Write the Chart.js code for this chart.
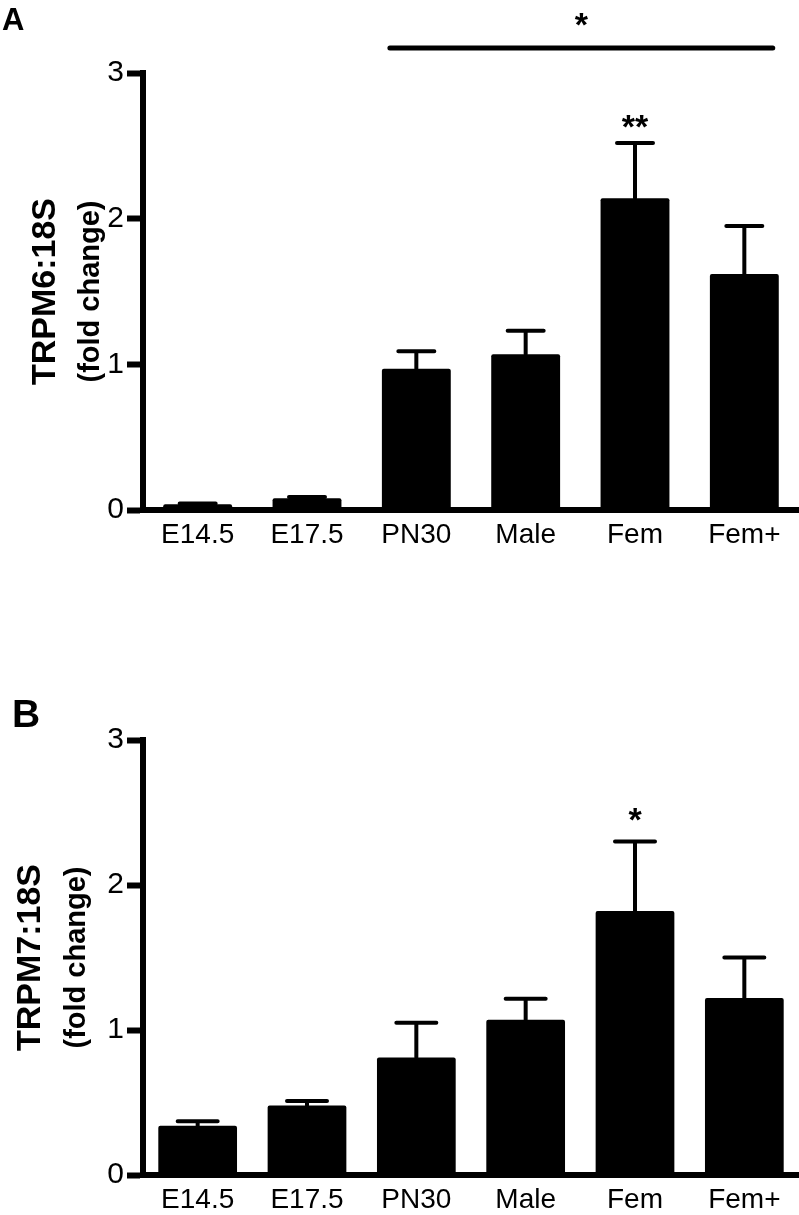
<!DOCTYPE html>
<html>
<head>
<meta charset="utf-8">
<script src="https://cdn.jsdelivr.net/npm/chart.js@4.4.1/dist/chart.umd.min.js"></script>
<style>
  html, body { margin: 0; padding: 0; background: #fff; }
  #cajaA { position: absolute; left: 0; top: 0; width: 799px; height: 590px; }
  #cajaB { position: absolute; left: 0; top: 590px; width: 799px; height: 625px; }
</style>
</head>
<body>
<div id="cajaA"><canvas id="plot1"></canvas></div>
<div id="cajaB"><canvas id="plot2"></canvas></div>
<script>
//Categorias del eje X
let categorias = ["E14.5", "E17.5", "PN30", "Male", "Fem", "Fem+"];
//Ticks del eje Y
let ticksY = [0, 1, 2, 3];

//Panel A: TRPM6 (media y error superior)
let trpm6Media = [0.04, 0.08, 0.97, 1.07, 2.14, 1.62];
let trpm6Error = [0.005, 0.01, 0.12, 0.16, 0.38, 0.33];

//Panel B: TRPM7
let trpm7Media = [0.34, 0.48, 0.81, 1.07, 1.82, 1.22];
let trpm7Error = [0.03, 0.03, 0.24, 0.145, 0.48, 0.28];

//Marcas de significancia
let sigLineaA = { desde: "PN30", hasta: "Fem+", texto: "*" };
let sigBarraA = { cat: "Fem", texto: "**" };
let sigBarraB = { cat: "Fem", texto: "*" };

let fuente = "'Liberation Sans', Arial, sans-serif";

let crearGrafico = (id, cfg) => {
  let plotRef = document.getElementById(id);

  //Plugin que dibuja barras de error, asteriscos, titulo del eje y letra del panel
  let extras = {
    id: "extras" + id,
    afterDraw: (chart) => {
      let ctx = chart.ctx;
      let x = chart.scales.x;
      let y = chart.scales.y;
      let area = chart.chartArea;
      let barras = chart.getDatasetMeta(0).data;
      ctx.save();
      ctx.strokeStyle = "#000";
      ctx.fillStyle = "#000";

      //Barras de error (solo hacia arriba)
      ctx.lineWidth = 4;
      ctx.lineCap = "round";
      cfg.media.forEach((m, i) => {
        let px = x.getPixelForValue(i);
        let y0 = y.getPixelForValue(m);
        let y1 = y.getPixelForValue(m + cfg.error[i]);
        ctx.beginPath();
        ctx.moveTo(px, y0);
        ctx.lineTo(px, y1);
        ctx.moveTo(px - cfg.tapa / 2, y1);
        ctx.lineTo(px + cfg.tapa / 2, y1);
        ctx.stroke();
      });

      //Asteriscos sobre una barra
      ctx.font = "bold 34px " + fuente;
      ctx.textAlign = "center";
      ctx.textBaseline = "alphabetic";
      cfg.sigBarras.forEach((s) => {
        let i = categorias.indexOf(s.cat);
        let py = y.getPixelForValue(cfg.media[i] + cfg.error[i]);
        ctx.fillText(s.texto, x.getPixelForValue(i), py - cfg.gapAst);
      });

      //Linea de significancia entre grupos
      cfg.sigLineas.forEach((s) => {
        let b1 = barras[categorias.indexOf(s.desde)];
        let b2 = barras[categorias.indexOf(s.hasta)];
        let x1 = b1.x - b1.width / 2 + 8;
        let x2 = b2.x + b2.width / 2 - 6;
        let py = area.top - 25;
        ctx.lineWidth = 5;
        ctx.beginPath();
        ctx.moveTo(x1, py);
        ctx.lineTo(x2, py);
        ctx.stroke();
        ctx.fillText(s.texto, (x1 + x2) / 2, py - 12);
      });

      //Titulo del eje Y en dos lineas
      let yc = (area.top + area.bottom) / 2;
      ctx.textBaseline = "middle";
      ctx.save();
      ctx.translate(cfg.tituloX[0], yc);
      ctx.rotate(-Math.PI / 2);
      ctx.font = "bold 34px " + fuente;
      ctx.fillText(cfg.titulo[0], 0, 0);
      ctx.restore();
      ctx.save();
      ctx.translate(cfg.tituloX[1], yc);
      ctx.rotate(-Math.PI / 2);
      ctx.font = "bold 29px " + fuente;
      ctx.fillText(cfg.titulo[1], 0, 0);
      ctx.restore();

      //Letra del panel
      ctx.textAlign = "left";
      ctx.textBaseline = "alphabetic";
      ctx.font = "bold " + cfg.letraTam + "px " + fuente;
      ctx.fillText(cfg.letra, cfg.letraPos[0], cfg.letraPos[1]);
      ctx.restore();
    },
  };

  let config = {
    type: "bar",
    data: {
      labels: categorias,
      datasets: [
        {
          label: cfg.titulo[0],
          data: cfg.media,
          backgroundColor: "#000",
          borderWidth: 0,
          borderRadius: 2,
          borderSkipped: "bottom",
          barPercentage: cfg.anchoBarra,
          categoryPercentage: 1,
        },
      ],
    },
    options: {
      responsive: true,
      maintainAspectRatio: false,
      animation: false,
      devicePixelRatio: 1,
      layout: { padding: { top: cfg.arriba, left: 0, right: 0, bottom: 0 } },
      plugins: { legend: { display: false }, tooltip: { enabled: false } },
      scales: {
        x: {
          grid: { display: false, drawTicks: false },
          border: { display: true, width: 6, color: "#000" },
          ticks: { color: "#000", font: { family: fuente, size: 28 }, padding: 8 },
          afterFit: (scale) => { scale.height = cfg.altoX; },
        },
        y: {
          min: 0,
          max: 3,
          grid: { display: true, drawOnChartArea: false, drawTicks: true, tickLength: 16, tickWidth: 6, tickColor: "#000" },
          border: { display: true, width: 6, color: "#000" },
          ticks: { color: "#000", font: { family: fuente, size: 30 }, padding: 3 },
          afterBuildTicks: (scale) => { scale.ticks = ticksY.map((v) => ({ value: v })); },
          afterFit: (scale) => { scale.width = 143; },
        },
      },
    },
    plugins: [extras],
  };

  return new Chart(plotRef, config);
};

let chart1 = crearGrafico("plot1", {
  media: trpm6Media,
  error: trpm6Error,
  titulo: ["TRPM6:18S", "(fold change)"],
  tituloX: [46, 91],
  letra: "A",
  letraTam: 31,
  letraPos: [2, 30],
  anchoBarra: 0.63,
  tapa: 36,
  gapAst: 5,
  sigBarras: [sigBarraA],
  sigLineas: [sigLineaA],
  arriba: 73,
  altoX: 80,
});

let chart2 = crearGrafico("plot2", {
  media: trpm7Media,
  error: trpm7Error,
  titulo: ["TRPM7:18S", "(fold change)"],
  tituloX: [31, 77],
  letra: "B",
  letraTam: 39,
  letraPos: [12, 137],
  anchoBarra: 0.72,
  tapa: 40,
  gapAst: 11,
  sigBarras: [sigBarraB],
  sigLineas: [],
  arriba: 150,
  altoX: 40,
});
</script>
</body>
</html>
